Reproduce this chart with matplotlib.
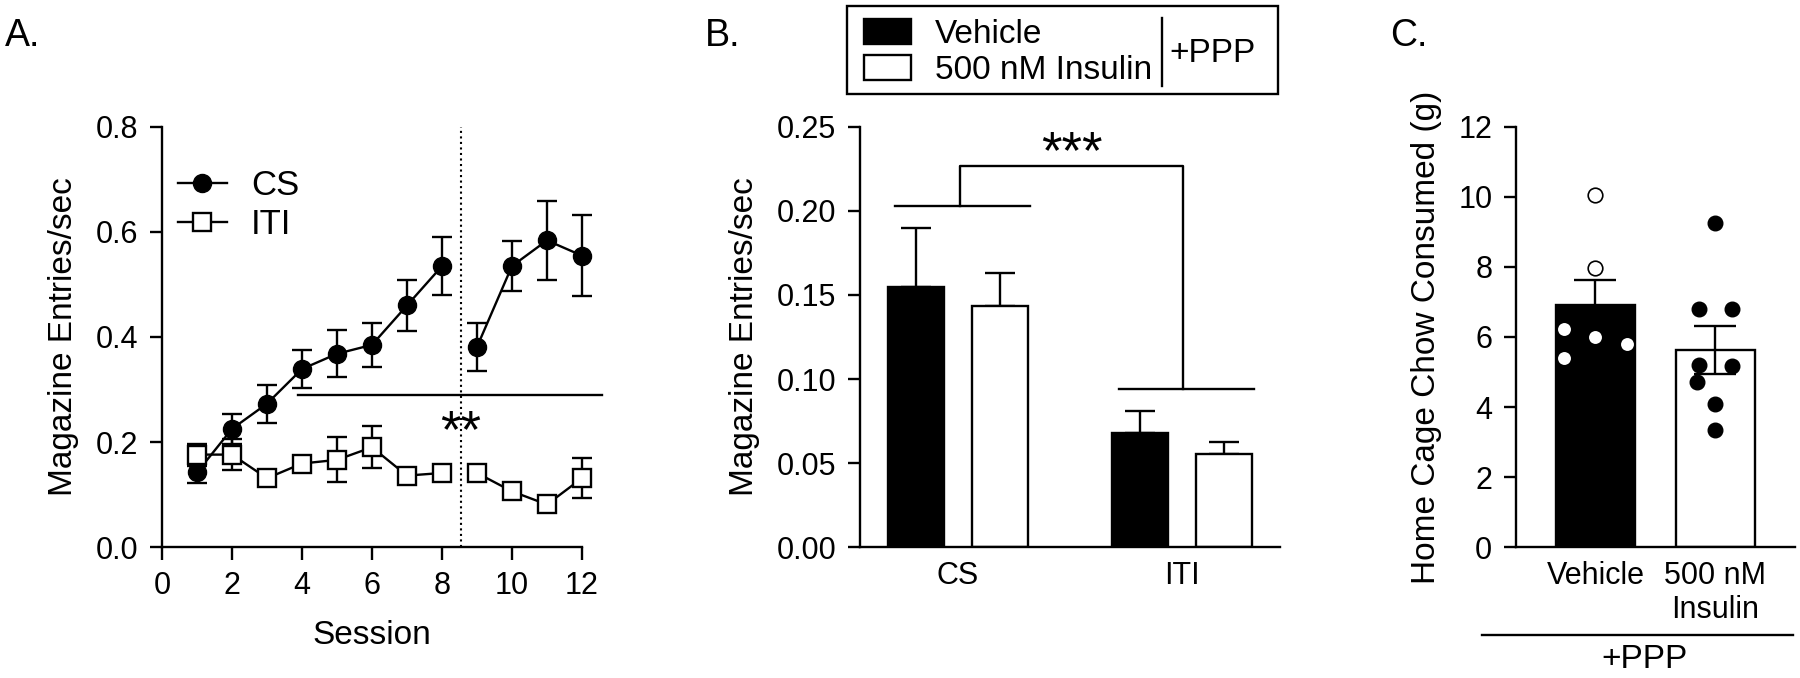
import numpy as np
import matplotlib.pyplot as plt
from matplotlib.patches import Patch, Rectangle
from matplotlib.lines import Line2D

plt.rcParams['font.family'] = ['Liberation Sans', 'DejaVu Sans']
plt.rcParams['axes.linewidth'] = 1.7
plt.rcParams['xtick.major.width'] = 1.7
plt.rcParams['ytick.major.width'] = 1.7
plt.rcParams['xtick.major.size'] = 9
plt.rcParams['ytick.major.size'] = 9
plt.rcParams['xtick.labelsize'] = 22
plt.rcParams['ytick.labelsize'] = 22

# panel A: acquisition sessions
sessions = np.arange(1, 13)
cs_mean = [0.142, 0.225, 0.273, 0.339, 0.368, 0.385, 0.460, 0.535, 0.381, 0.535, 0.584, 0.555]
cs_sem = [0.020, 0.028, 0.036, 0.036, 0.045, 0.042, 0.048, 0.055, 0.045, 0.047, 0.075, 0.077]
iti_mean = [0.176, 0.176, 0.131, 0.159, 0.166, 0.190, 0.136, 0.141, 0.141, 0.106, 0.081, 0.131]
iti_sem = [0.021, 0.029, 0.008, 0.013, 0.043, 0.040, 0.008, 0.008, 0.008, 0.008, 0.008, 0.038]
split_at = 8.55

# panel B: test, CS vs ITI
groups_b = ['CS', 'ITI']
veh_b = [0.155, 0.068]
veh_b_sem = [0.035, 0.013]
ins_b = [0.1435, 0.0555]
ins_b_sem = [0.0195, 0.007]

# panel C: home cage chow
groups_c = ['Vehicle', '500 nM\nInsulin']
chow_mean = [6.9, 5.63]
chow_sem = [0.72, 0.69]
veh_pts = [10.07, 7.96, 6.24, 6.0, 5.81, 5.40]
veh_jit = [0.0, 0.0, -0.26, 0.0, 0.26, -0.26]
ins_pts = [9.25, 6.79, 6.81, 5.19, 5.16, 4.71, 4.09, 3.35]
ins_jit = [0.0, -0.14, 0.14, -0.14, 0.14, -0.15, 0.0, 0.0]

fig = plt.figure(figsize=(18, 6.78), dpi=100)
axA = fig.add_axes([0.09, 0.1932, 0.2333, 0.6195])
axB = fig.add_axes([0.4778, 0.1932, 0.2333, 0.6195])
axC = fig.add_axes([0.8422, 0.1932, 0.155, 0.6195])

for ax in (axA, axB, axC):
    ax.spines['top'].set_visible(False)
    ax.spines['right'].set_visible(False)

# ---- A ----
s = sessions
first = s <= 8
cs = np.array(cs_mean)
iti = np.array(iti_mean)
axA.errorbar(s, cs, yerr=cs_sem, fmt='none', ecolor='k', elinewidth=1.7,
             capsize=7, capthick=1.7, clip_on=False, zorder=2)
axA.errorbar(s, iti, yerr=iti_sem, fmt='none', ecolor='k', elinewidth=1.7,
             capsize=7, capthick=1.7, clip_on=False, zorder=2)
for m in (first, ~first):
    h_cs, = axA.plot(s[m], cs[m], '-o', color='k', mfc='k', ms=13, lw=1.7,
                     clip_on=False, zorder=3)
for m in (first, ~first):
    h_iti, = axA.plot(s[m], iti[m], '-s', color='k', mfc='white', mew=1.7,
                      ms=12.5, lw=1.7, clip_on=False, zorder=4)
axA.axvline(split_at, ymax=1.0, color='k', ls=':', lw=1.5)
axA.plot([3.9, 12.57], [0.29, 0.29], color='k', lw=1.7, clip_on=False)
axA.text(8.52, 0.19, '**', fontsize=38, ha='center', va='baseline')
axA.set_xlim(0, 12)
axA.set_ylim(0, 0.8)
axA.set_xticks(range(0, 13, 2))
axA.set_yticks([0, 0.2, 0.4, 0.6, 0.8])
axA.set_yticklabels(['0.0', '0.2', '0.4', '0.6', '0.8'])
axA.set_xlabel('Session', fontsize=24, labelpad=14)
axA.set_ylabel('Magazine Entries/sec', fontsize=24, labelpad=12)
axA.tick_params(pad=8)
axA.legend([h_cs, h_iti], ['CS', 'ITI'], loc='upper left',
           bbox_to_anchor=(0.038, 0.90), frameon=False, fontsize=25,
           handlelength=1.4, handletextpad=0.7, labelspacing=0.18,
           borderpad=0, borderaxespad=0, numpoints=1)

# ---- B ----
xb = np.arange(len(groups_b))
off = 0.1875
wb = 0.25
axB.bar(xb - off, veh_b, wb, color='k', edgecolor='k', lw=1.7, zorder=2)
axB.bar(xb + off, ins_b, wb, color='white', edgecolor='k', lw=1.7, zorder=2)
axB.errorbar(xb - off, veh_b, yerr=[[0, 0], veh_b_sem], fmt='none', ecolor='k',
             elinewidth=1.7, capsize=10.5, capthick=1.7, zorder=1)
axB.errorbar(xb + off, ins_b, yerr=[[0, 0], ins_b_sem], fmt='none', ecolor='k',
             elinewidth=1.7, capsize=10.5, capthick=1.7, zorder=1)
axB.plot([-0.28, 0.32], [0.203, 0.203], color='k', lw=1.7)
axB.plot([0.72, 1.32], [0.094, 0.094], color='k', lw=1.7)
axB.plot([0.01, 0.01, 1.004, 1.004], [0.203, 0.227, 0.227, 0.094], color='k', lw=1.7)
axB.text(0.51, 0.2255, '***', fontsize=38, ha='center', va='baseline')
axB.set_xlim(-0.4375, 1.4375)
axB.set_ylim(0, 0.25)
axB.set_xticks(xb)
axB.set_xticklabels(groups_b)
axB.tick_params(axis='x', length=0, pad=10)
axB.tick_params(axis='y', pad=8)
axB.set_yticks([0, 0.05, 0.10, 0.15, 0.20, 0.25])
axB.set_yticklabels(['0.00', '0.05', '0.10', '0.15', '0.20', '0.25'])
axB.set_ylabel('Magazine Entries/sec', fontsize=24, labelpad=12)

# legend box above B
fig.add_artist(Rectangle((847 / 1800, 1 - 94 / 678), 431 / 1800, 88 / 678,
                         transform=fig.transFigure, fill=False, ec='k', lw=1.7))
fig.legend([Patch(fc='k', ec='k', lw=1.7), Patch(fc='white', ec='k', lw=1.7)],
           ['Vehicle', '500 nM Insulin'], loc='upper left',
           bbox_to_anchor=(864 / 1800, 1 - 19 / 678), frameon=False, fontsize=24,
           handlelength=1.42, handleheight=0.78, handletextpad=0.72,
           labelspacing=0.14, borderpad=0, borderaxespad=0)
fig.add_artist(Line2D([1162 / 1800, 1162 / 1800], [1 - 18 / 678, 1 - 86 / 678],
                      transform=fig.transFigure, color='k', lw=1.7))
fig.text(1169 / 1800, 1 - 53 / 678, '+PPP', fontsize=24, ha='left', va='center')

# ---- C ----
xc = np.arange(len(groups_c))
axC.bar(xc, chow_mean, 0.66, color=['k', 'white'], edgecolor='k', lw=1.7, zorder=1)
axC.errorbar(xc, chow_mean, yerr=chow_sem, fmt='none', ecolor='k',
             elinewidth=1.7, capsize=15, capthick=1.7, zorder=2)
axC.plot(xc[0] + np.array(veh_jit), veh_pts, 'o', mfc='white', mec='k', mew=1.2,
         ms=10.5, zorder=3, ls='none')
axC.plot(xc[1] + np.array(ins_jit), ins_pts, 'o', mfc='k', mec='k', ms=10.5,
         zorder=3, ls='none')
axC.set_xlim(-0.6625, 1.6625)
axC.set_ylim(0, 12)
axC.set_yticks(range(0, 13, 2))
axC.set_xticks(xc)
axC.set_xticklabels(groups_c, fontsize=22)
axC.tick_params(axis='x', length=0, pad=10)
axC.tick_params(axis='y', pad=8)
axC.set_ylabel('Home Cage Chow Consumed (g)', fontsize=24, labelpad=12)
axC.plot([-0.122, 0.993], [-0.2095, -0.2095], color='k', lw=1.7,
         transform=axC.transAxes, clip_on=False)
axC.text(0.46, -0.269, '+PPP', fontsize=24, ha='center', va='center',
         transform=axC.transAxes)

# panel letters
for x0, lab in [(5, 'A.'), (705, 'B.'), (1390, 'C.')]:
    fig.text(x0 / 1800, 1 - 36 / 678, lab, fontsize=27, ha='left', va='center')

fig.savefig('out.png', dpi=100)
